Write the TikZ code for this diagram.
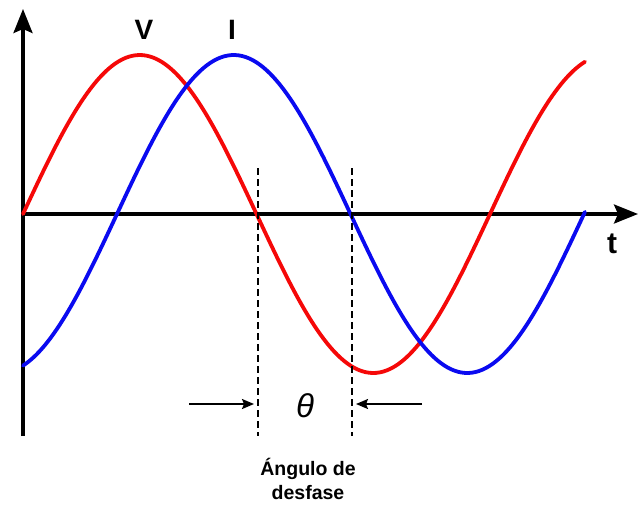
\documentclass[tikz,border=0pt]{standalone}
\usepackage{fontspec}
\setmainfont{Liberation Sans}
\usetikzlibrary{arrows.meta}
\tikzset{
  axis/.style={line width=3.2pt, -{Stealth[length=24pt,width=19pt,inset=4pt]}},
  wave/.style={line width=3.8pt, line cap=round, smooth, samples=160},
  guide/.style={line width=2.2pt, dash pattern=on 6.5pt off 4.5pt},
  marker/.style={line width=1.8pt, -{Stealth[length=12pt,width=10pt,inset=2pt]}},
  lbl/.style={font=\fontsize{28}{30}\selectfont\bfseries, inner sep=0pt},
  note/.style={font=\fontsize{19.5}{24}\selectfont\bfseries, align=center, inner sep=0pt}
}
\begin{document}
\begin{tikzpicture}[x=1pt,y=-1pt]
\useasboundingbox (0,0) rectangle (639,504);
% axes
\coordinate (O) at (23,214);
\coordinate (ytop) at (23,9);
\coordinate (ybot) at (23,436);
\coordinate (xend) at (638,214);
\draw[axis] (ybot) -- (ytop);
\draw[axis] (O) -- (xend);
% waves
\draw[wave, color={rgb,255:red,245;green,8;blue,8}] plot[domain=23:585] ({\x},{214-159*sin((\x-23)/467*360)});
\draw[wave, color={rgb,255:red,10;green,10;blue,240}] plot[domain=23:585] ({\x},{214-159*sin((\x-117)/467*360)});
% guides
\coordinate (d1t) at (258,168);
\coordinate (d1b) at (258,436);
\coordinate (d2t) at (352,168);
\coordinate (d2b) at (352,436);
\draw[guide] (d1t) -- (d1b);
\draw[guide] (d2t) -- (d2b);
% arrows
\coordinate (a1s) at (189,404);
\coordinate (a1e) at (254,404);
\coordinate (a2s) at (422,404);
\coordinate (a2e) at (356,404);
\draw[marker] (a1s) -- (a1e);
\draw[marker] (a2s) -- (a2e);
% labels
\node[lbl] (V) at (144,30) {V};
\node[lbl] (I) at (232,30) {I};
\node[lbl, font=\fontsize{30}{32}\selectfont\bfseries] (t) at (612,244) {t};
\node[inner sep=0pt, font=\fontsize{33}{35}\selectfont\itshape] (th) at (305,406) {θ};
\node[note] (ang) at (308,479) {Ángulo de\\desfase};
\end{tikzpicture}
\end{document}
